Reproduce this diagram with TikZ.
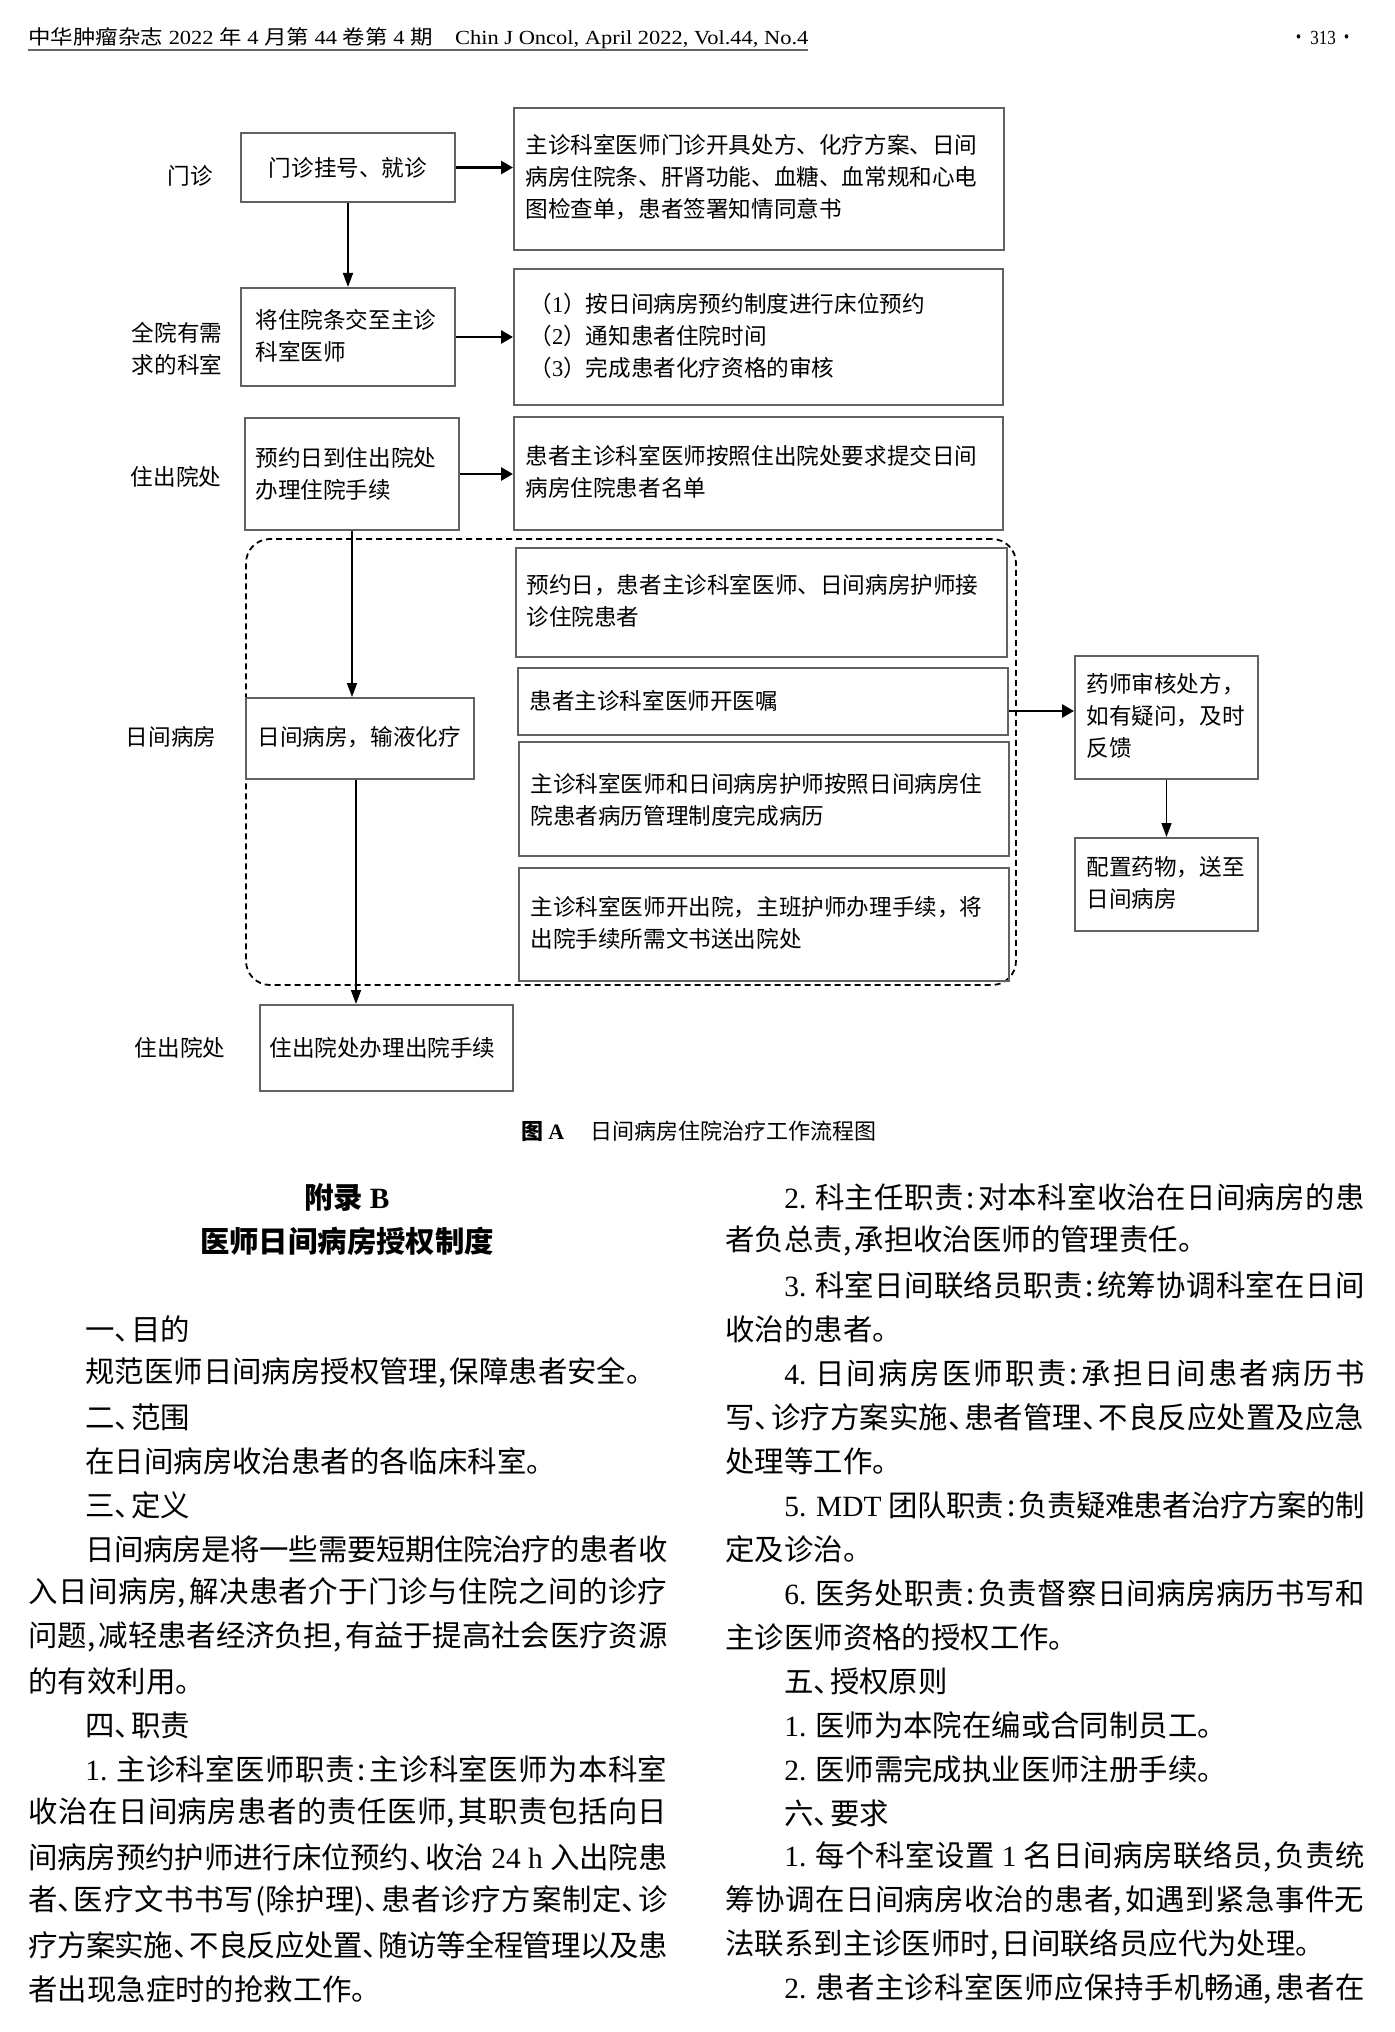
\documentclass[tikz,border=0pt]{standalone}
\usepackage{fontspec}
\setmainfont{Noto Sans CJK SC}
\newfontfamily\lat{Liberation Serif}
\usetikzlibrary{arrows.meta,fit}
\newcommand\dfnt{\fontsize{11.3pt}{16pt}\selectfont}
\newcommand\bfnt{\fontsize{14.7pt}{18pt}\selectfont}
\newcommand\JL[2]{\parbox{#1}{\XeTeXlinebreaklocale "zh"\XeTeXlinebreakskip=0pt plus 1fil minus 3pt\relax\parfillskip=0pt\parindent=0pt\noindent #2}}
\newcommand\zdh{\makebox[0.55em][l]{、}}
\newcommand\zcm{\makebox[0.4em][l]{,}}
\newcommand\zcn{\makebox[0.5em][c]{:}}
\tikzset{
  box/.style={draw=black!62, line width=1pt, inner sep=0pt},
  dashbox/.style={draw=black, line width=0.9pt, dash pattern=on 3pt off 2pt, rounded corners=12pt, inner sep=0pt},
  dtx/.style={inner sep=0pt, anchor=west, align=left, font=\dfnt},
  lab/.style={inner sep=0pt, align=center, font=\dfnt},
  harr/.style={-{Triangle[length=6pt,width=6.5pt]}, line width=1.4pt},
  varr/.style={-{Triangle[length=7pt,width=5pt]}, line width=0.8pt},
  bt/.style={inner sep=0pt, anchor=west, font=\bfnt},
}
\begin{document}
\begin{tikzpicture}[x=0.5pt,y=-0.5pt]
\fill[white] (0,0) rectangle (1394,2032);
\useasboundingbox (0,0) rectangle (1394,2032);

% header
\node[anchor=west, inner sep=0pt] (hdr) at (28,38) {\resizebox{390pt}{\height}{\fontsize{10pt}{12pt}\selectfont 中华肿瘤杂志{\lat\ 2022 }年{\lat\ 4 }月第{\lat\ 44 }卷第{\lat\ 4 }期{\lat\quad Chin J Oncol, April 2022, Vol.44, No.4}}};
\draw[line width=0.9pt, black!60] (28,50) -- (808,50);
\node[inner sep=0pt] (pg) at (1323,38) {\fontsize{10pt}{12pt}\selectfont\scalebox{0.85}[1]{·\,{\lat 313}\,·}};

% left labels
\node[lab] (lab1) at (190,176) {门诊};
\node[lab] (lab2) at (177,349) {全院有需\\求的科室};
\node[lab] (lab3) at (176,477) {住出院处};
\node[lab] (lab4) at (171,737) {日间病房};
\node[lab] (lab5) at (180,1048) {住出院处};

% dashed group
\node[dashbox, fit={(246,539) (1016,985)}] (D) {};

% boxes
\node[box, fit={(241,133) (455,202)}] (B1) {};
\node[box, fit={(514,108) (1004,250)}] (R1) {};
\node[box, fit={(241,288) (455,386)}] (B2) {};
\node[box, fit={(514,269) (1003,405)}] (R2) {};
\node[box, fit={(245,418) (459,530)}] (B3) {};
\node[box, fit={(514,417) (1003,530)}] (R3) {};
\node[box, fit={(516,548) (1007,657)}] (R4) {};
\node[box, fit={(518,668) (1008,735)}] (R5) {};
\node[box, fit={(519,742) (1009,856)}] (R6) {};
\node[box, fit={(519,868) (1009,981)}] (R7) {};
\node[box, fit={(246,698) (474,779)}] (B4) {};
\node[box, fit={(260,1005) (513,1091)}] (B5) {};
\node[box, fit={(1075,656) (1258,779)}] (P1) {};
\node[box, fit={(1075,838) (1258,931)}] (P2) {};

% box texts
\node[dtx, anchor=center] (B1t) at (B1.center) {门诊挂号、就诊};
\node[dtx] (R1t) at (525,177) {主诊科室医师门诊开具处方、化疗方案、日间\\病房住院条、肝肾功能、血糖、血常规和心电\\图检查单，患者签署知情同意书};
\node[dtx] (B2t) at (255,336) {将住院条交至主诊\\科室医师};
\node[dtx] (R2t) at (529,336) {（{\lat 1}）按日间病房预约制度进行床位预约\\（{\lat 2}）通知患者住院时间\\（{\lat 3}）完成患者化疗资格的审核};
\node[dtx] (B3t) at (255,474) {预约日到住出院处\\办理住院手续};
\node[dtx] (R3t) at (525,472) {患者主诊科室医师按照住出院处要求提交日间\\病房住院患者名单};
\node[dtx] (R4t) at (526,601) {预约日，患者主诊科室医师、日间病房护师接\\诊住院患者};
\node[dtx] (R5t) at (529,701) {患者主诊科室医师开医嘱};
\node[dtx] (R6t) at (530,800) {主诊科室医师和日间病房护师按照日间病房住\\院患者病历管理制度完成病历};
\node[dtx] (R7t) at (530,923) {主诊科室医师开出院，主班护师办理手续，将\\出院手续所需文书送出院处};
\node[dtx] (B4t) at (257,737) {日间病房，输液化疗};
\node[dtx] (B5t) at (269,1048) {住出院处办理出院手续};
\node[dtx] (P1t) at (1086,716) {药师审核处方，\\如有疑问，及时\\反馈};
\node[dtx] (P2t) at (1086,883) {配置药物，送至\\日间病房};

% arrows
\draw[harr] (B1.east) -- (B1.east -| R1.west);
\draw[varr] (B1.south) -- (B2.north);
\draw[harr] (B2.east) -- (B2.east -| R2.west);
\draw[harr] (B3.east) -- (B3.east -| R3.west);
\draw[varr] (B3.south) -- (B3.south |- B4.north);
\coordinate (b4o) at ([xshift=-2pt]B4.south);
\draw[varr] (b4o) -- (b4o |- B5.north);
\coordinate (r5o) at ([yshift=-4.75pt]R5.east);
\draw[harr] (r5o) -- (r5o -| P1.west);
\draw[varr] (P1.south) -- (P2.north);

% caption
\node[anchor=west, inner sep=0pt, font=\fontsize{11pt}{13pt}\selectfont] (cap) at (521,1131) {\textbf{图 {\lat A}}\hspace{13pt}日间病房住院治疗工作流程图};

% appendix title
\node[inner sep=0pt, font=\bfnt\bfseries] (ttl1) at (347,1197) {附录 {\lat B}};
\node[inner sep=0pt, font=\bfnt\bfseries] (ttl2) at (347,1241) {医师日间病房授权制度};

% left column
\node[bt] (la0) at (85,1329) {一\zdh{}目的};
\node[bt] (la1) at (85,1373) {规范医师日间病房授权管理\zcm{}保障患者安全。};
\node[bt] (la2) at (85,1417) {二\zdh{}范围};
\node[bt] (la3) at (85,1461) {在日间病房收治患者的各临床科室。};
\node[bt] (la4) at (85,1505) {三\zdh{}定义};
\node[bt] (la5) at (85,1549) {\JL{291pt}{日间病房是将一些需要短期住院治疗的患者收}};
\node[bt] (la6) at (28,1593) {\JL{319.5pt}{入日间病房\zcm{}解决患者介于门诊与住院之间的诊疗}};
\node[bt] (la7) at (28,1637) {\JL{319.5pt}{问题\zcm{}减轻患者经济负担\zcm{}有益于提高社会医疗资源}};
\node[bt] (la8) at (28,1681) {的有效利用。};
\node[bt] (la9) at (85,1725) {四\zdh{}职责};
\node[bt] (la10) at (85,1769) {\JL{291pt}{{\lat 1.} 主诊科室医师职责\zcn{}主诊科室医师为本科室}};
\node[bt] (la11) at (28,1813) {\JL{319.5pt}{收治在日间病房患者的责任医师\zcm{}其职责包括向日}};
\node[bt] (la12) at (28,1857) {\JL{319.5pt}{间病房预约护师进行床位预约\zdh{}收治{\lat\ 24 h }入出院患}};
\node[bt] (la13) at (28,1901) {\JL{319.5pt}{者\zdh{}医疗文书书写(除护理)\zdh{}患者诊疗方案制定\zdh{}诊}};
\node[bt] (la14) at (28,1945) {\JL{319.5pt}{疗方案实施\zdh{}不良反应处置\zdh{}随访等全程管理以及患}};
\node[bt] (la15) at (28,1989) {者出现急症时的抢救工作。};

% right column
\node[bt] (ra0) at (784,1197) {\JL{290pt}{{\lat 2.} 科主任职责\zcn{}对本科室收治在日间病房的患}};
\node[bt] (ra1) at (725,1241) {者负总责\zcm{}承担收治医师的管理责任。};
\node[bt] (ra2) at (784,1285) {\JL{290pt}{{\lat 3.} 科室日间联络员职责\zcn{}统筹协调科室在日间}};
\node[bt] (ra3) at (725,1329) {收治的患者。};
\node[bt] (ra4) at (784,1373) {\JL{290pt}{{\lat 4.} 日间病房医师职责\zcn{}承担日间患者病历书}};
\node[bt] (ra5) at (725,1417) {\JL{319.5pt}{写\zdh{}诊疗方案实施\zdh{}患者管理\zdh{}不良反应处置及应急}};
\node[bt] (ra6) at (725,1461) {处理等工作。};
\node[bt] (ra7) at (784,1505) {\JL{290pt}{{\lat 5. MDT }团队职责\zcn{}负责疑难患者治疗方案的制}};
\node[bt] (ra8) at (725,1549) {定及诊治。};
\node[bt] (ra9) at (784,1593) {\JL{290pt}{{\lat 6.} 医务处职责\zcn{}负责督察日间病房病历书写和}};
\node[bt] (ra10) at (725,1637) {主诊医师资格的授权工作。};
\node[bt] (ra11) at (784,1681) {五\zdh{}授权原则};
\node[bt] (ra12) at (784,1725) {{\lat 1.} 医师为本院在编或合同制员工。};
\node[bt] (ra13) at (784,1769) {{\lat 2.} 医师需完成执业医师注册手续。};
\node[bt] (ra14) at (784,1813) {六\zdh{}要求};
\node[bt] (ra15) at (784,1857) {\JL{290pt}{{\lat 1.} 每个科室设置{\lat\ 1 }名日间病房联络员\zcm{}负责统}};
\node[bt] (ra16) at (725,1901) {\JL{319.5pt}{筹协调在日间病房收治的患者\zcm{}如遇到紧急事件无}};
\node[bt] (ra17) at (725,1945) {法联系到主诊医师时\zcm{}日间联络员应代为处理。};
\node[bt] (ra18) at (784,1989) {\JL{290pt}{{\lat 2.} 患者主诊科室医师应保持手机畅通\zcm{}患者在}};
\end{tikzpicture}
\end{document}
